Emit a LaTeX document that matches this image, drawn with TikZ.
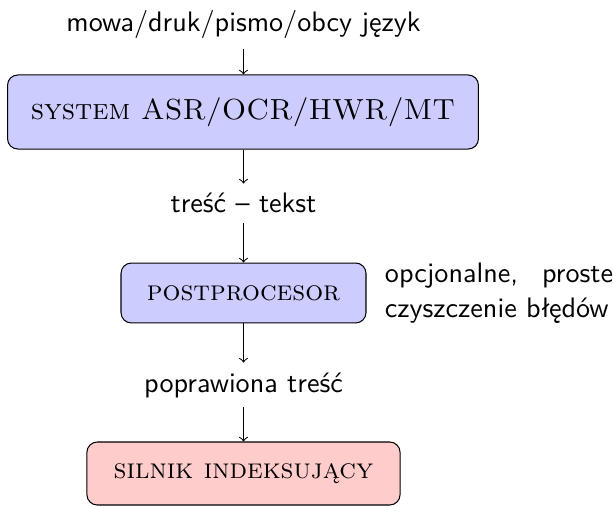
\documentclass[tikz,border=0pt,11pt]{standalone}
\usepackage{fontspec}
\begin{document}
\begin{tikzpicture}[x=0.389pt,y=-0.389pt,
  every node/.style={font=\sffamily},
  stage/.style={draw, rounded corners=4pt, font=\rmfamily\scshape},
  lbl/.style={anchor=base},
  flow/.style={->}]
\useasboundingbox (0,0) rectangle (613,506);
% input, stages and intermediate results, top to bottom
\node[lbl] (src) at (243.5,32) {mowa/druk/pismo/obcy język};
\node[stage, fill=blue!20, minimum width=183.2pt, minimum height=28.8pt,
  font=\rmfamily\scshape\fontsize{11.3}{13.6}\selectfont]
  (asr) at (243,112) {system ASR/OCR/HWR/MT};
\node[lbl] (txt) at (243.5,213) {treść – tekst};
\node[stage, fill=blue!20, minimum width=95.3pt, minimum height=23.3pt]
  (post) at (243.5,293) {postprocesor};
\node[text width=88.7pt, inner sep=0pt, align=left] (note) at (499,293)
  {opcjonalne,\hfill proste\\czyszczenie błędów};
\node[lbl] (fixed) at (243.5,392) {poprawiona treść};
\node[stage, fill=red!20, minimum width=121.8pt, minimum height=24.5pt]
  (idx) at (243.5,473.5) {silnik indeksujący};
% connectors, all on one vertical line
\draw[flow] (src) -- (src |- asr.north);
\draw[flow] (src |- asr.south) -- (txt);
\draw[flow] (txt) -- (post);
\draw[flow] (post) -- (fixed);
\draw[flow] (fixed) -- (idx);
\end{tikzpicture}
\end{document}
